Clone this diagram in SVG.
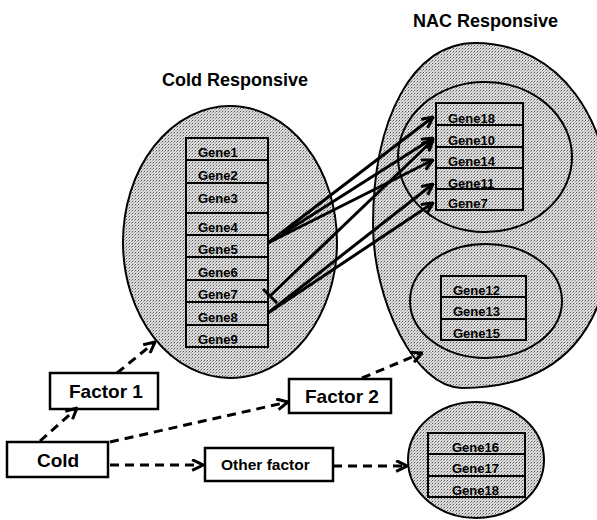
<svg xmlns="http://www.w3.org/2000/svg" width="597" height="520" viewBox="0 0 597 520">
<defs>
<pattern id="stip" width="3" height="3" patternUnits="userSpaceOnUse">
<rect width="3" height="3" fill="#dcdcdc"/>
<rect x="0" y="0" width="1" height="1" fill="#555"/>
<rect x="2" y="1" width="1" height="1" fill="#9a9a9a"/>
<rect x="1" y="2" width="1" height="1" fill="#bbb"/>
</pattern>
<marker id="arr" viewBox="0 0 12 12" refX="11" refY="6" markerWidth="13" markerHeight="13" markerUnits="userSpaceOnUse" orient="auto">
<path d="M1,1 L11,6 L1,11" fill="none" stroke="#000" stroke-width="2.8"/>
</marker>
</defs>
<style>
.blob{fill:url(#stip);stroke:#000;stroke-width:2}
.tbl{fill:none;stroke:#000;stroke-width:2}
.gene{font-family:"Liberation Sans",Arial,sans-serif;font-weight:bold;font-size:13px;fill:#000}
.box{fill:#fff;stroke:#000;stroke-width:2.5}
.lbl{font-family:"Liberation Sans",Arial,sans-serif;font-weight:bold;fill:#000}
.head{font-family:"Liberation Sans",Arial,sans-serif;font-weight:bold;font-size:18px;fill:#000}
.solid{fill:none;stroke:#000;stroke-width:3;marker-end:url(#arr)}
.dash{fill:none;stroke:#000;stroke-width:3;stroke-dasharray:9 6;marker-end:url(#arr)}
</style>
<rect width="597" height="520" fill="#fff"/>

<g id="cold-responsive">
<ellipse class="blob" cx="230" cy="242" rx="107" ry="136"/>
<text class="head" x="162" y="86">Cold Responsive</text>
<rect class="tbl" x="186" y="138" width="82" height="209"/>
<path class="tbl" d="M186,160H268M186,183H268M186,213H268M186,235H268M186,257H268M186,280H268M186,302H268M186,325H268"/>
<text class="gene" x="198" y="157">Gene1</text>
<text class="gene" x="198" y="180">Gene2</text>
<text class="gene" x="198" y="203">Gene3</text>
<text class="gene" x="198" y="232">Gene4</text>
<text class="gene" x="198" y="254">Gene5</text>
<text class="gene" x="198" y="277">Gene6</text>
<text class="gene" x="198" y="299">Gene7</text>
<text class="gene" x="198" y="322">Gene8</text>
<text class="gene" x="198" y="344">Gene9</text>
</g>

<g id="nac-responsive">
<path class="blob" d="M475,43 C560,43 612,120 612,220 C612,330 560,388 462,388 C415,388 373,300 373,225 C373,120 412,43 475,43 Z"/>
<text class="head" x="413" y="27">NAC Responsive</text>
</g>

<g id="nac-group-a">
<ellipse class="blob" cx="485" cy="157" rx="87" ry="75"/>
<rect class="tbl" x="436" y="103" width="87" height="107"/>
<path class="tbl" d="M436,125H523M436,147H523M436,168H523M436,189H523"/>
<text class="gene" x="448" y="123">Gene18</text>
<text class="gene" x="448" y="145">Gene10</text>
<text class="gene" x="448" y="166">Gene14</text>
<text class="gene" x="448" y="188">Gene11</text>
<text class="gene" x="448" y="208">Gene7</text>
</g>

<g id="nac-group-b">
<ellipse class="blob" cx="486" cy="301" rx="76" ry="57"/>
<rect class="tbl" x="441" y="276" width="85" height="64"/>
<path class="tbl" d="M441,297H526M441,319H526"/>
<text class="gene" x="453" y="295">Gene12</text>
<text class="gene" x="453" y="316">Gene13</text>
<text class="gene" x="453" y="338">Gene15</text>
</g>

<g id="other-responsive">
<ellipse class="blob" cx="476" cy="460" rx="68" ry="58"/>
<rect class="tbl" x="428" y="433" width="97" height="64"/>
<path class="tbl" d="M428,454H525M428,476H525"/>
<text class="gene" x="452" y="452">Gene16</text>
<text class="gene" x="452" y="473">Gene17</text>
<text class="gene" x="452" y="495">Gene18</text>
</g>

<g id="factor1">
<rect class="box" x="50" y="373" width="108" height="36"/>
<text class="lbl" x="69" y="398" font-size="19">Factor 1</text>
</g>
<g id="factor2">
<rect class="box" x="289" y="379" width="102" height="34"/>
<text class="lbl" x="305" y="403" font-size="19">Factor 2</text>
</g>
<g id="cold">
<rect class="box" x="7" y="442" width="101" height="35"/>
<text class="lbl" x="37" y="467" font-size="19">Cold</text>
</g>
<g id="other-factor">
<rect class="box" x="205" y="448" width="128" height="33"/>
<text class="lbl" x="221" y="470" font-size="15.5">Other factor</text>
</g>

<g id="connectors">
<path class="solid" d="M268,243 L433,117"/>
<path class="solid" d="M268,243 L433,138"/>
<path class="solid" d="M268,243 L433,160"/>
<path class="solid" d="M270,296 L433,140"/>
<path d="M263,289 L277,303" fill="none" stroke="#000" stroke-width="3"/>
<path class="solid" d="M268,313 L433,184"/>
<path class="solid" d="M268,313 L433,203"/>
<path class="dash" d="M40,441 L77,408"/>
<path class="dash" d="M117,373 L155,342"/>
<path class="dash" d="M110,442 L288,402"/>
<path class="dash" d="M110,465 L203,465"/>
<path class="dash" d="M362,378 L422,353"/>
<path class="dash" d="M333,466 L407,466"/>
</g>
</svg>
